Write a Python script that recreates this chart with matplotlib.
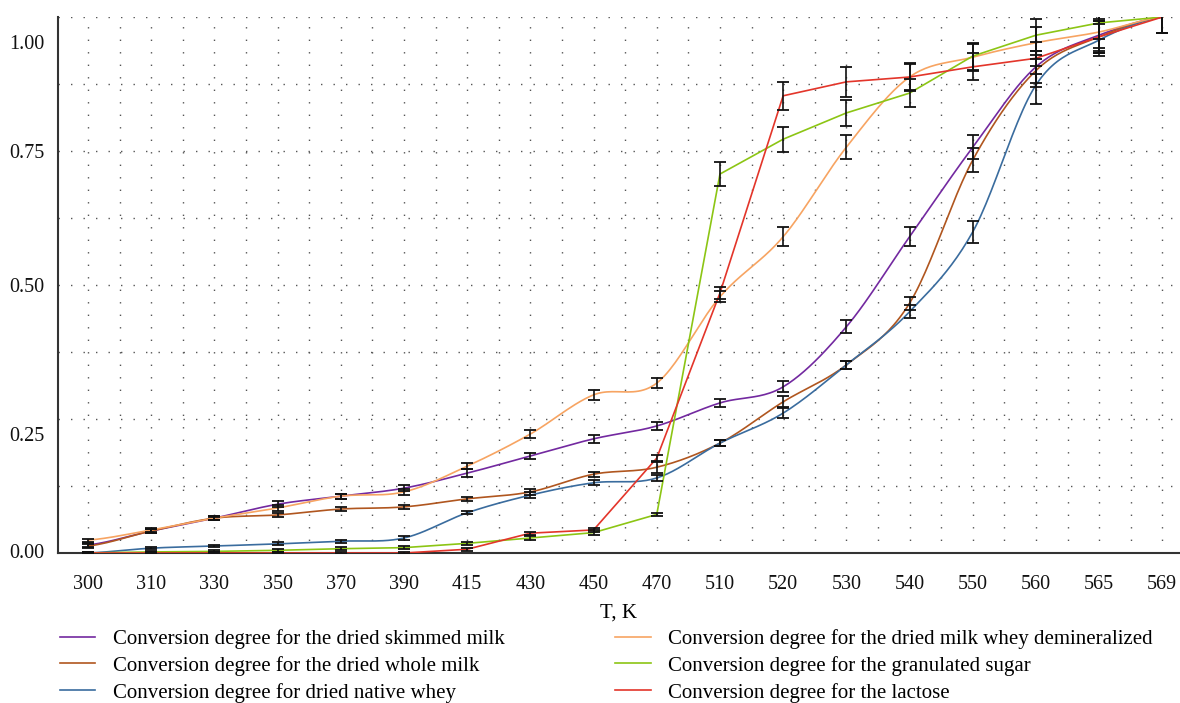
import numpy as np
import matplotlib
matplotlib.use("Agg")
import matplotlib.pyplot as plt

plt.rcParams['font.family'] = ['Liberation Serif', 'DejaVu Serif']

# categories on the x axis (T, K)
temps = ['300', '310', '330', '350', '370', '390', '415', '430', '450',
         '470', '510', '520', '530', '540', '550', '560', '565', '569']

skimmed = [0.015, 0.041, 0.065, 0.091, 0.106, 0.121, 0.149, 0.181, 0.213,
           0.237, 0.280, 0.310, 0.422, 0.590, 0.757, 0.907, 0.966, 1.0]
skimmed_err = [0.004, 0.004, 0.004, 0.006, 0.005, 0.006, 0.007, 0.006, 0.007,
               0.008, 0.008, 0.010, 0.012, 0.018, 0.022, 0.030, 0.030, 0.030]

whole = [0.013, 0.041, 0.065, 0.071, 0.082, 0.086, 0.101, 0.114, 0.147,
         0.160, 0.205, 0.282, 0.351, 0.466, 0.733, 0.900, 0.963, 1.0]
whole_err = [0.003, 0.004, 0.003, 0.004, 0.004, 0.004, 0.004, 0.005, 0.005,
             0.010, 0.006, 0.010, 0.008, 0.012, 0.022, 0.030, 0.030, 0.030]

native = [0.0, 0.009, 0.013, 0.017, 0.022, 0.028, 0.075, 0.108, 0.131,
          0.140, 0.205, 0.261, 0.351, 0.450, 0.599, 0.873, 0.957, 1.0]
native_err = [0.002, 0.002, 0.002, 0.003, 0.003, 0.003, 0.003, 0.006, 0.005,
              0.005, 0.006, 0.010, 0.008, 0.012, 0.020, 0.035, 0.030, 0.030]

demin = [0.024, 0.043, 0.065, 0.084, 0.106, 0.114, 0.162, 0.222, 0.295,
         0.317, 0.478, 0.590, 0.757, 0.888, 0.925, 0.952, 0.972, 1.0]
demin_err = [0.003, 0.004, 0.004, 0.006, 0.005, 0.006, 0.006, 0.008, 0.010,
             0.010, 0.010, 0.018, 0.022, 0.025, 0.025, 0.030, 0.030, 0.030]

sugar = [0.0, 0.002, 0.003, 0.005, 0.008, 0.010, 0.018, 0.028, 0.038,
         0.072, 0.707, 0.772, 0.821, 0.858, 0.927, 0.966, 0.989, 1.0]
sugar_err = [0.002, 0.002, 0.002, 0.003, 0.003, 0.003, 0.003, 0.003, 0.004,
             0.003, 0.022, 0.023, 0.025, 0.026, 0.025, 0.030, 0.030, 0.030]

lactose = [0.0, 0.0, 0.0, 0.0, 0.0, 0.0, 0.007, 0.037, 0.043,
           0.177, 0.485, 0.853, 0.879, 0.888, 0.907, 0.923, 0.963, 1.0]
lactose_err = [0.002, 0.002, 0.002, 0.002, 0.002, 0.002, 0.003, 0.003, 0.004,
               0.006, 0.012, 0.026, 0.028, 0.026, 0.025, 0.030, 0.030, 0.030]

labels = ['Conversion degree for the dried skimmed milk',
          'Conversion degree for the dried whole milk',
          'Conversion degree for dried native whey',
          'Conversion degree for the dried milk whey demineralized',
          'Conversion degree for the granulated sugar',
          'Conversion degree for the lactose']

# y tick labels sit where the original figure puts them
ytick_pos = [0.004, 0.222, 0.500, 0.750, 0.953]
ytick_labels = ['0.00', '0.25', '0.50', '0.75', '1.00']


def catmull_rom(y, steps=24):
    # smooth curve through every point (x = category index)
    y = np.asarray(y, dtype=float)
    n = len(y)
    xs, ys = [], []
    for i in range(n - 1):
        p0 = y[i - 1] if i > 0 else y[i]
        p1 = y[i]
        p2 = y[i + 1]
        p3 = y[i + 2] if i + 2 < n else y[i + 1]
        t = np.linspace(0, 1, steps, endpoint=False)
        seg = 0.5 * ((2 * p1) + (-p0 + p2) * t + (2 * p0 - 5 * p1 + 4 * p2 - p3) * t ** 2
                     + (-p0 + 3 * p1 - 3 * p2 + p3) * t ** 3)
        xs.append(i + t)
        ys.append(seg)
    xs.append([n - 1])
    ys.append([y[-1]])
    return np.concatenate(xs), np.concatenate(ys)


series = [
    (skimmed, skimmed_err, '#7329A0', True),
    (whole, whole_err, '#B0561F', True),
    (native, native_err, '#3A6C9E', True),
    (demin, demin_err, '#F7A462', True),
    (sugar, sugar_err, '#8CC514', False),
    (lactose, lactose_err, '#E3352A', False),
]

fig = plt.figure(figsize=(11.8, 7.03), dpi=100)
ax = fig.add_axes([58 / 1180, 1 - 553 / 703, 1 - 58 / 1180, (553 - 17) / 703])

x = np.arange(len(temps))
handles = []
for (vals, err, col, smooth), lab in zip(series, labels):
    if smooth:
        sx, sy = catmull_rom(vals)
    else:
        sx, sy = x, vals
    h, = ax.plot(sx, sy, color=col, lw=1.2, label=lab, zorder=3)
    handles.append(h)
    ax.errorbar(x, vals, yerr=err, fmt='none', ecolor='#111111', elinewidth=1.2,
                capsize=4.3, capthick=1.3, zorder=4)

ax.set_xlim(-0.475, 17.28)
ax.set_ylim(0, 1.0)
ax.set_xticks(x)
ax.set_xticklabels(temps)
ax.set_yticks(ytick_pos)
ax.set_yticklabels(ytick_labels)
ax.tick_params(length=0, labelsize=14.5, colors='#111111')
ax.tick_params(axis='x', pad=16)
ax.tick_params(axis='y', pad=10)

# dotted grid: every half category and every 1/8 on y
for gx in np.arange(0, 17.6, 0.5):
    ax.axvline(gx, color='#555555', lw=1.0, ls=(0, (1, 8)), zorder=1)
for gy in np.arange(0.125, 1.01, 0.125):
    ax.axhline(gy, color='#555555', lw=1.0, ls=(0, (1, 8)), zorder=1)

for s in ['top', 'right']:
    ax.spines[s].set_visible(False)
ax.spines['left'].set_linewidth(1.5)
ax.spines['bottom'].set_linewidth(1.5)
ax.spines['left'].set_color('#333333')
ax.spines['bottom'].set_color('#333333')

ax.set_xlabel('T, K', fontsize=15, labelpad=7)

fig.legend(handles=handles, loc='upper left', bbox_to_anchor=(0.0438, 0.117),
           ncol=2, frameon=False, fontsize=15, handlelength=1.7,
           handletextpad=0.85, columnspacing=5.3, labelspacing=0.33,
           borderaxespad=0)

fig.savefig('out.png', dpi=100)
